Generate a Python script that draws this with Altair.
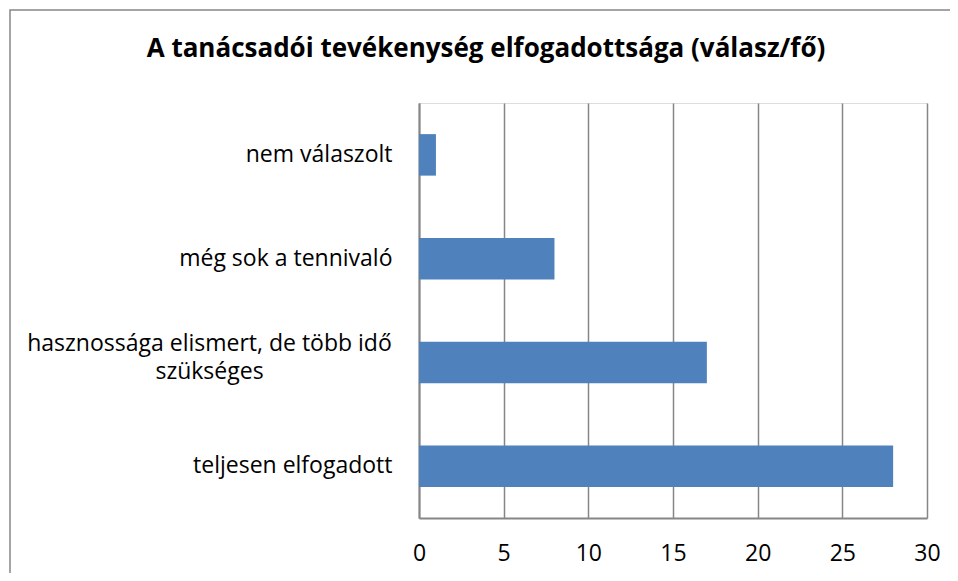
import altair as alt
import pandas as pd

categories = [
    "nem válaszolt",
    "még sok a tennivaló",
    "hasznossága elismert, de több idő szükséges",
    "teljesen elfogadott",
]
values = [1, 8, 17, 28]
x_ticks = [0, 5, 10, 15, 20, 25, 30]
title_text = "A tanácsadói tevékenység elfogadottsága (válasz/fő)"

df = pd.DataFrame({"cat": categories, "val": values})
long_label = categories[2]
is_long = "datum.value == '" + long_label + "'"

FONT = "Open Sans"
GRAY = "#868686"

bars = alt.Chart(df).mark_bar(color="#4F81BD").encode(
    x=alt.X(
        "val:Q",
        scale=alt.Scale(domain=[0, 30], nice=False),
        axis=alt.Axis(
            values=x_ticks,
            title=None,
            grid=True,
            gridColor=GRAY,
            gridWidth=1.5,
            domainColor=GRAY,
            domainWidth=2,
            ticks=False,
            labelFont=FONT,
            labelFontSize=23,
            labelColor="#000000",
            labelBaseline="middle",
            labelPadding=35,
            labelFlush=False,
        ),
    ),
    y=alt.Y(
        "cat:N",
        sort=categories,
        scale=alt.Scale(paddingInner=0.6, paddingOuter=0.3),
        axis=alt.Axis(
            title=None,
            ticks=False,
            domainColor=GRAY,
            domainWidth=2,
            labelFont=FONT,
            labelFontSize=23,
            labelColor="#000000",
            labelLineHeight=28,
            labelLimit=500,
            labelBaseline="middle",
            labelExpr=is_long + " ? ['hasznossága elismert, de több idő', 'szükséges'] : datum.value",
            labelAlign={"condition": {"test": is_long, "value": "center"}, "value": "right"},
            labelPadding={"condition": {"test": is_long, "value": 210}, "value": 27},
            labelOffset={"condition": {"test": is_long, "value": -18}, "value": 0},
        ),
    ),
)

frame = alt.Chart(pd.DataFrame({"a": [0]})).mark_rect(
    fill=None, stroke=GRAY, strokeWidth=1.5
).encode(
    x=alt.value(-409), x2=alt.value(600), y=alt.value(-93), y2=alt.value(520)
)

chart = alt.layer(frame, bars).properties(
    width=508,
    height=415,
    autosize=alt.AutoSizeParams(type="none"),
    padding={"left": 411, "top": 95, "right": 23, "bottom": 55},
    title=alt.TitleParams(
        title_text,
        font=FONT,
        fontSize=26,
        fontWeight="bold",
        color="#000000",
        anchor="middle",
        frame="group",
        dx=-187,
        offset=-53,
    ),
).configure_view(stroke=None).configure(background="white")

chart.save("out.html", embed_options={"renderer": "svg", "actions": False})
